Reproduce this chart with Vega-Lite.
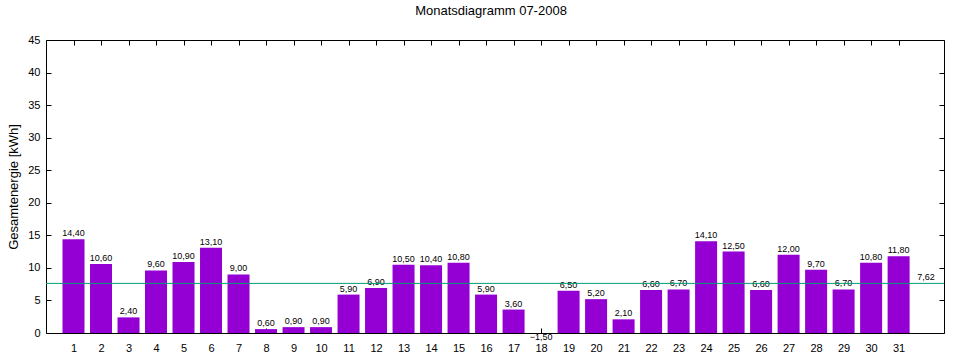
{
  "$schema": "https://vega.github.io/schema/vega-lite/v6.json",
  "width": 898,
  "height": 293,
  "autosize": {"type": "none"},
  "padding": {"left": 46, "top": 40, "right": 16, "bottom": 27},
  "background": "white",
  "title": {"text": "Monatsdiagramm 07-2008", "fontSize": 13, "font": "Liberation Sans", "fontWeight": "normal", "offset": 16, "dx": -4, "color": "black"},
  "config": {
    "locale": {"number": {"decimal": ",", "thousands": ".", "grouping": [3], "currency": ["", " €"]}},
    "view": {"stroke": "black", "strokeWidth": 1},
    "axis": {"grid": false, "domain": false, "tickSize": -5, "tickColor": "black", "labelColor": "black", "labelFont": "Liberation Sans", "labelFontSize": 11, "titleFont": "Liberation Sans", "titleFontWeight": "normal", "titleFontSize": 13, "titleColor": "black"}
  },
  "datasets": {
    "days": [
      {"day": 1, "value": 14.4}, {"day": 2, "value": 10.6}, {"day": 3, "value": 2.4}, {"day": 4, "value": 9.6},
      {"day": 5, "value": 10.9}, {"day": 6, "value": 13.1}, {"day": 7, "value": 9.0}, {"day": 8, "value": 0.6},
      {"day": 9, "value": 0.9}, {"day": 10, "value": 0.9}, {"day": 11, "value": 5.9}, {"day": 12, "value": 6.9},
      {"day": 13, "value": 10.5}, {"day": 14, "value": 10.4}, {"day": 15, "value": 10.8}, {"day": 16, "value": 5.9},
      {"day": 17, "value": 3.6}, {"day": 18, "value": -1.5}, {"day": 19, "value": 6.5}, {"day": 20, "value": 5.2},
      {"day": 21, "value": 2.1}, {"day": 22, "value": 6.6}, {"day": 23, "value": 6.7}, {"day": 24, "value": 14.1},
      {"day": 25, "value": 12.5}, {"day": 26, "value": 6.6}, {"day": 27, "value": 12.0}, {"day": 28, "value": 9.7},
      {"day": 29, "value": 6.7}, {"day": 30, "value": 10.8}, {"day": 31, "value": 11.8}
    ],
    "avg": [{"value": 7.62}]
  },
  "resolve": {"axis": {"x": "independent", "y": "independent"}},
  "layer": [
    {
      "data": {"name": "days"},
      "mark": {"type": "bar", "size": 22, "color": "#9400d3", "clip": true},
      "encoding": {
        "x": {"field": "day", "type": "quantitative", "scale": {"domain": [0, 32.65], "nice": false, "zero": false, "padding": 0},
              "axis": {"orient": "bottom", "title": null, "values": [1,2,3,4,5,6,7,8,9,10,11,12,13,14,15,16,17,18,19,20,21,22,23,24,25,26,27,28,29,30,31], "format": "d", "labelPadding": 14, "labelFlush": false}},
        "y": {"field": "value", "type": "quantitative", "scale": {"domain": [0, 45], "nice": false, "padding": 0},
              "axis": {"orient": "left", "title": "Gesamtenergie [kWh]", "values": [0,5,10,15,20,25,30,35,40,45], "labelPadding": 11, "titlePadding": 7, "labelFlush": false}}
      }
    },
    {
      "data": {"name": "days"},
      "mark": {"type": "text", "dy": -6, "baseline": "middle", "align": "center", "fontSize": 9, "font": "Liberation Sans", "color": "black"},
      "encoding": {
        "x": {"field": "day", "type": "quantitative",
              "axis": {"orient": "top", "title": null, "labels": false, "values": [1,2,3,4,5,6,7,8,9,10,11,12,13,14,15,16,17,18,19,20,21,22,23,24,25,26,27,28,29,30,31]}},
        "y": {"field": "value", "type": "quantitative",
              "axis": {"orient": "right", "title": null, "labels": false, "values": [0,5,10,15,20,25,30,35,40,45]}},
        "text": {"field": "value", "type": "quantitative", "format": ".2f"}
      }
    },
    {
      "data": {"name": "avg"},
      "mark": {"type": "rule", "color": "#009e73", "strokeWidth": 1},
      "encoding": {
        "y": {"field": "value", "type": "quantitative", "axis": null}
      }
    },
    {
      "data": {"name": "avg"},
      "mark": {"type": "text", "dy": -6, "baseline": "middle", "align": "center", "fontSize": 9, "font": "Liberation Sans", "color": "black"},
      "encoding": {
        "x": {"datum": 32, "type": "quantitative", "axis": null},
        "y": {"field": "value", "type": "quantitative", "axis": null},
        "text": {"field": "value", "type": "quantitative", "format": ".2f"}
      }
    }
  ]
}
